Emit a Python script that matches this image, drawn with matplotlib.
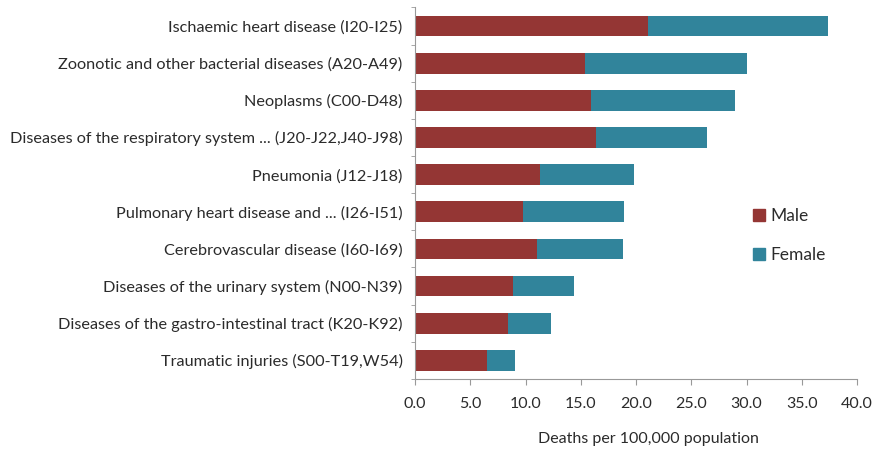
import matplotlib.pyplot as plt
from matplotlib.patches import Patch

# causes of death, top to bottom
causes = ["Ischaemic heart disease (I20-I25)",
          "Zoonotic and other bacterial diseases (A20-A49)",
          "Neoplasms (C00-D48)",
          "Diseases of the respiratory system ... (J20-J22,J40-J98)",
          "Pneumonia (J12-J18)",
          "Pulmonary heart disease and ... (I26-I51)",
          "Cerebrovascular disease (I60-I69)",
          "Diseases of the urinary system (N00-N39)",
          "Diseases of the gastro-intestinal tract (K20-K92)",
          "Traumatic injuries (S00-T19,W54)"]
male = [21.1, 15.4, 15.9, 16.4, 11.3, 9.8, 11.0, 8.9, 8.4, 6.5]
female = [16.3, 14.6, 13.1, 10.0, 8.5, 9.1, 7.8, 5.5, 3.9, 2.55]
xticks = [0, 5, 10, 15, 20, 25, 30, 35, 40]

plt.rcParams['font.family'] = ['Lato', 'DejaVu Sans']
txt = '#2b2b2b'
male_c = '#943634'
female_c = '#31849B'

fig = plt.figure(figsize=(8.73, 4.49), dpi=100)
ax = fig.add_axes([0.4754, 0.156, 0.5063, 0.8275])

y = list(range(len(causes)))
ax.barh(y, male, height=0.56, color=male_c)
ax.barh(y, female, left=male, height=0.56, color=female_c)

ax.set_ylim(len(causes) - 0.5, -0.5)
ax.set_xlim(0, 40)
ax.set_yticks(y)
ax.set_yticklabels(causes, fontsize=11.7, color=txt)
ax.tick_params(axis='y', length=0, pad=9)
# small ticks between categories
ax.set_yticks([i + 0.5 for i in range(-1, len(causes))], minor=True)
ax.tick_params(axis='y', which='minor', length=3, color='#999999')
ax.set_xticks(xticks)
ax.set_xticklabels(['%.1f' % v for v in xticks], fontsize=11.5, color=txt)
ax.tick_params(axis='x', length=4, color='#999999', pad=9)

for s in ['top', 'right']:
    ax.spines[s].set_visible(False)
for s in ['left', 'bottom']:
    ax.spines[s].set_color('#999999')

ax.set_xlabel('Deaths per 100,000 population', fontsize=11.5, color=txt)
ax.xaxis.set_label_coords(0.529, -0.142)

handles = [Patch(color=male_c, label='Male'), Patch(color=female_c, label='Female')]
fig.legend(handles=handles, loc='upper left', bbox_to_anchor=(0.845, 0.572),
           frameon=False, handlelength=0.7, handleheight=0.7, handletextpad=0.3,
           labelspacing=1.35, prop={'size': 12.5}, labelcolor=txt)

fig.savefig('out.png', dpi=100)
